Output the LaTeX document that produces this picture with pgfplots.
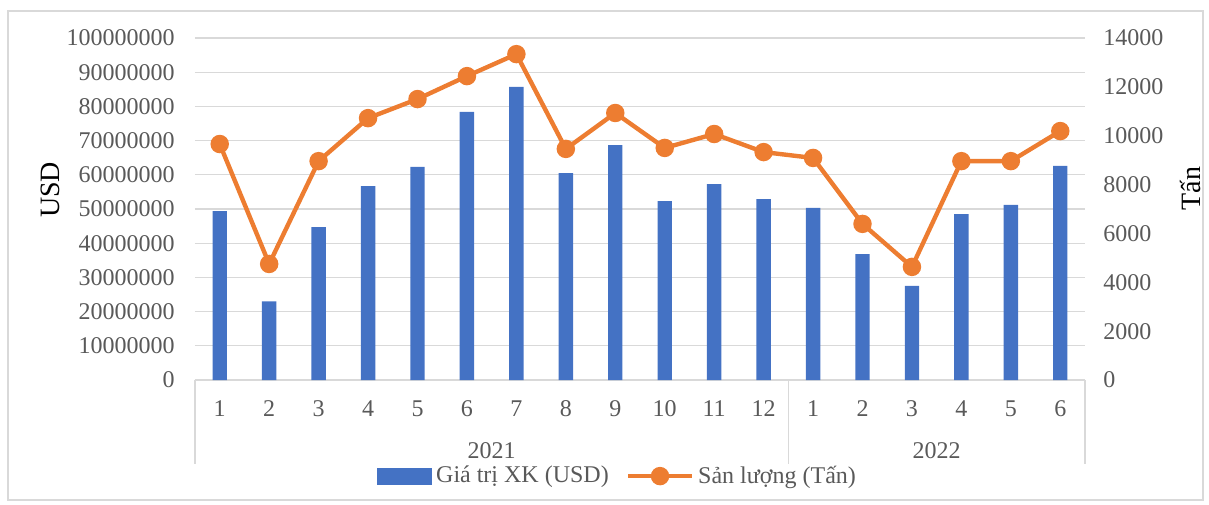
\documentclass[border=0pt]{standalone}
\usepackage{fontspec}
\setmainfont{Liberation Serif}
\usepackage{pgfplots}
\pgfplotsset{compat=1.18}
\definecolor{barblue}{HTML}{4472C4}
\definecolor{lineorange}{HTML}{ED7D31}
\definecolor{gridgray}{HTML}{D9D9D9}
\definecolor{labgray}{HTML}{595959}
\begin{document}
\begin{tikzpicture}
\useasboundingbox (-97.5pt,-62pt) rectangle (507pt,190pt);
\draw[gridgray, line width=0.6pt] (-93.5pt,-60pt) rectangle (504pt,184.5pt);
\begin{axis}[
  at={(0pt,0pt)}, anchor=south west,
  scale only axis, width=445pt, height=171pt,
  xmin=-0.5, xmax=17.5, ymin=0, ymax=100000000,
  ytick distance=10000000,
  xtick={0,...,17},
  xticklabels={1,2,3,4,5,6,7,8,9,10,11,12,1,2,3,4,5,6},
  scaled y ticks=false,
  /pgf/number format/assume math mode=true,
  yticklabel style={/pgf/number format/fixed, /pgf/number format/1000 sep={}, inner sep=0pt, anchor=east, xshift=-10pt, text=labgray, font=\fontsize{12}{14}\selectfont},
  xticklabel style={anchor=base, inner sep=0pt, yshift=-18pt, text=labgray, font=\fontsize{12}{14}\selectfont},
  axis line style={draw=none},
  major tick length=0pt,
  ymajorgrids, grid style={gridgray, line width=0.6pt},
  ylabel={USD},
  ylabel style={at={(rel axis cs:-0.163,0.556)}, anchor=center, rotate=0, font=\fontsize{14}{16}\selectfont},
  clip=false,
]
\addplot[ybar, bar width=7.2pt, fill=barblue, draw=none] coordinates {
(0,49400000) (1,23000000) (2,44700000) (3,56700000) (4,62300000) (5,78400000)
(6,85700000) (7,60500000) (8,68700000) (9,52300000) (10,57300000) (11,52900000)
(12,50300000) (13,36800000) (14,27500000) (15,48500000) (16,51200000) (17,62600000)
};
\draw[gridgray, line width=0.6pt] (axis cs:-0.5,0) -- ([yshift=-42pt]axis cs:-0.5,0);
\draw[gridgray, line width=0.6pt] (axis cs:11.5,0) -- ([yshift=-42pt]axis cs:11.5,0);
\draw[gridgray, line width=0.6pt] (axis cs:17.5,0) -- ([yshift=-42pt]axis cs:17.5,0);
\node[anchor=base, inner sep=0pt, text=labgray, font=\fontsize{12}{14}\selectfont] at ([yshift=-39pt]axis cs:5.5,0) {2021};
\node[anchor=base, inner sep=0pt, text=labgray, font=\fontsize{12}{14}\selectfont] at ([yshift=-39pt]axis cs:14.5,0) {2022};
\end{axis}
\begin{axis}[
  at={(0pt,0pt)}, anchor=south west,
  scale only axis, width=445pt, height=171pt,
  xmin=-0.5, xmax=17.5, ymin=0, ymax=14000,
  ytick distance=2000,
  scaled y ticks=false,
  axis x line=none,
  axis y line*=right,
  axis line style={draw=none},
  major tick length=0pt,
  /pgf/number format/assume math mode=true,
  yticklabel style={/pgf/number format/fixed, /pgf/number format/1000 sep={}, inner sep=0pt, anchor=west, xshift=9pt, text=labgray, font=\fontsize{12}{14}\selectfont},
  ylabel={Tấn},
  ylabel style={at={(rel axis cs:1.118,0.56)}, anchor=center, rotate=0, font=\fontsize{14}{16}\selectfont},
  legend style={at={(0.476,-0.281)}, anchor=center, draw=none, fill=none,
     font=\fontsize{12}{14}\selectfont, text=labgray, inner sep=0pt,
     /tikz/every even column/.append style={column sep=6.5pt}},
  legend columns=2,
  clip=false,
]
\addlegendimage{legend image code/.code={\fill[barblue] (0pt,-4pt) rectangle (27pt,4pt);}}
\addlegendentry{Giá trị XK (USD)}
\addplot[color=lineorange, line width=2.2pt, mark=*, mark size=3.5pt, mark options={fill=lineorange, draw=lineorange},
  legend image code/.code={\draw[lineorange, line width=2.2pt] (0pt,0pt) -- (32pt,0pt); \fill[lineorange] (16pt,0pt) circle (3.5pt);}] coordinates {
(0,9660) (1,4750) (2,8960) (3,10720) (4,11500) (5,12440) (6,13340) (7,9460) (8,10930)
(9,9500) (10,10070) (11,9330) (12,9090) (13,6390) (14,4630) (15,8960) (16,8960) (17,10190)
};
\addlegendentry{Sản lượng (Tấn)}
\end{axis}
\end{tikzpicture}
\end{document}
